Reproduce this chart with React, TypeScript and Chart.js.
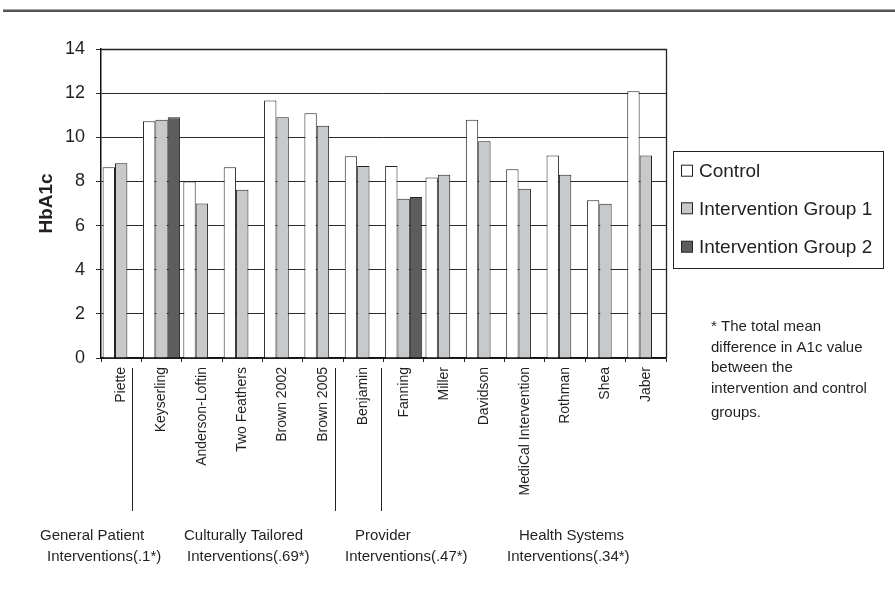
import React, { useEffect, useRef } from "react";
import { Chart, registerables } from "chart.js";

Chart.register(...registerables);

const categories = [
  "Piette",
  "Keyserling",
  "Anderson-Loftin",
  "Two Feathers",
  "Brown 2002",
  "Brown 2005",
  "Benjamin",
  "Fanning",
  "Miller",
  "Davidson",
  "MediCal Intervention",
  "Rothman",
  "Shea",
  "Jaber",
];

const seriesNames = ["Control", "Intervention Group 1", "Intervention Group 2"];

const controlValues = [8.64, 10.73, 8.0, 8.64, 11.67, 11.09, 9.14, 8.7, 8.18, 10.79, 8.55, 9.18, 7.15, 12.09];
const group1Values = [8.82, 10.79, 7.0, 7.62, 10.91, 10.52, 8.7, 7.21, 8.3, 9.82, 7.67, 8.3, 6.99, 9.18];
const group2Values = [null, 10.91, null, null, null, null, null, 7.29, null, null, null, null, null, null];

const yTickValues = [0, 2, 4, 6, 8, 10, 12, 14];

// Divider positions, in category units (index of category, fractional)
const dividerPositions = [0.26, 5.3, 6.44];

const groupLabels = [
  ["General Patient", "Interventions(.1*)"],
  ["Culturally Tailored", "Interventions(.69*)"],
  ["Provider", "Interventions(.47*)"],
  ["Health Systems", "Interventions(.34*)"],
];

const noteLines = [
  "* The total mean",
  "difference in A1c value",
  "between the",
  "intervention and control",
  "groups.",
];

const FONT = "'Liberation Sans', Arial, Helvetica, sans-serif";
const TEXT = "#231f20";
const COLORS = ["#ffffff", "#c8c9cb", "#5d5d5f"];

// layout (pixels)
const groupLabelPos = [
  [40, 47],
  [184, 187],
  [355, 345],
  [519, 507],
];
const noteBaselines = [331, 352, 372, 393, 417];

const annotationsPlugin = {
  id: "annotations",
  afterDraw(chart: any) {
    const ctx = chart.ctx as CanvasRenderingContext2D;
    const area = chart.chartArea;
    const xScale = chart.scales.x;
    ctx.save();

    // frame: top and right
    ctx.strokeStyle = "#222";
    ctx.lineWidth = 1.3;
    ctx.beginPath();
    ctx.moveTo(area.left, area.top + 0.5);
    ctx.lineTo(area.right + 0.5, area.top + 0.5);
    ctx.lineTo(area.right + 0.5, area.bottom);
    ctx.stroke();

    // top rule
    ctx.strokeStyle = "#555";
    ctx.lineWidth = 2.5;
    ctx.beginPath();
    ctx.moveTo(3, 10.8);
    ctx.lineTo(895, 10.8);
    ctx.stroke();

    // y title
    ctx.fillStyle = TEXT;
    ctx.font = `bold 19px ${FONT}`;
    ctx.textAlign = "center";
    ctx.textBaseline = "middle";
    ctx.save();
    ctx.translate(47, (area.top + area.bottom) / 2);
    ctx.rotate(-Math.PI / 2);
    ctx.fillText("HbA1c", 0, 0);
    ctx.restore();

    // dividers
    ctx.strokeStyle = "#222";
    ctx.lineWidth = 1;
    dividerPositions.forEach((p) => {
      const x = Math.round(xScale.getPixelForValue(p)) + 0.5;
      ctx.beginPath();
      ctx.moveTo(x, area.bottom + 10);
      ctx.lineTo(x, 511);
      ctx.stroke();
    });

    // group labels
    ctx.font = `15px ${FONT}`;
    ctx.textAlign = "left";
    ctx.textBaseline = "alphabetic";
    ctx.fillStyle = TEXT;
    groupLabels.forEach((lines, i) => {
      ctx.fillText(lines[0], groupLabelPos[i][0], 539.5);
      ctx.fillText(lines[1], groupLabelPos[i][1], 561);
    });

    // legend
    const lx = 673.5, ly = 151.5, lw = 210, lh = 117;
    ctx.strokeStyle = "#222";
    ctx.lineWidth = 1;
    ctx.strokeRect(lx, ly, lw, lh);
    const rowY = [170.7, 208.3, 246.7];
    ctx.font = `19px ${FONT}`;
    ctx.textBaseline = "middle";
    chart.data.datasets.forEach((ds: any, i: number) => {
      ctx.fillStyle = ds.backgroundColor;
      ctx.fillRect(681, rowY[i] - 5.5, 11, 11);
      ctx.strokeStyle = "#222";
      ctx.strokeRect(681.5, rowY[i] - 5.5, 11, 11);
      ctx.fillStyle = TEXT;
      ctx.fillText(ds.label, 699, rowY[i] + 1);
    });

    // note
    ctx.font = `15px ${FONT}`;
    ctx.textBaseline = "alphabetic";
    ctx.fillStyle = TEXT;
    noteLines.forEach((line, i) => {
      ctx.fillText(line, 711, noteBaselines[i]);
    });

    ctx.restore();
  },
};

export default function App() {
  const canvasRef = useRef<HTMLCanvasElement | null>(null);

  useEffect(() => {
    if (!canvasRef.current) return;
    const valueLists = [controlValues, group1Values, group2Values];
    const chart = new Chart(canvasRef.current, {
      type: "bar",
      data: {
        labels: categories,
        datasets: seriesNames.map((name, i) => ({
          label: name,
          data: valueLists[i] as any,
          backgroundColor: COLORS[i],
          borderColor: "#222",
          borderWidth: 1,
          borderSkipped: "bottom",
          categoryPercentage: 0.92,
          barPercentage: 1.0,
        })),
      },
      options: {
        animation: false,
        responsive: false,
        maintainAspectRatio: false,
        devicePixelRatio: 1,
        layout: { padding: { left: 0, right: 229, top: 49, bottom: 0 } },
        plugins: {
          legend: { display: false },
          tooltip: { enabled: false },
          title: { display: false },
        },
        scales: {
          x: {
            offset: true,
            grid: {
              offset: true,
              drawOnChartArea: false,
              drawTicks: true,
              tickLength: 4,
              color: "#222",
            },
            border: { display: true, color: "#111", width: 1.5 },
            ticks: {
              autoSkip: false,
              maxRotation: 90,
              minRotation: 90,
              padding: 5,
              color: TEXT,
              font: { family: FONT, size: 14 },
            },
            afterFit: (scale: any) => {
              scale.height = 232;
            },
          },
          y: {
            min: 0,
            max: 14,
            afterBuildTicks: (scale: any) => {
              scale.ticks = yTickValues.map((v) => ({ value: v }));
            },
            grid: { color: "#2a2a2a", lineWidth: 1, tickLength: 5, drawTicks: true },
            border: { display: true, color: "#111", width: 1.5 },
            ticks: {
              padding: 11,
              color: TEXT,
              font: { family: FONT, size: 18 },
            },
            afterFit: (scale: any) => {
              scale.width = 101;
            },
          },
        },
      },
      plugins: [annotationsPlugin],
    });
    return () => chart.destroy();
  }, []);

  return (
    <div style={{ position: "absolute", left: 0, top: 0, width: 895, height: 590, background: "#fff" }}>
      <canvas ref={canvasRef} width={895} height={590} style={{ width: 895, height: 590, display: "block" }} />
    </div>
  );
}
